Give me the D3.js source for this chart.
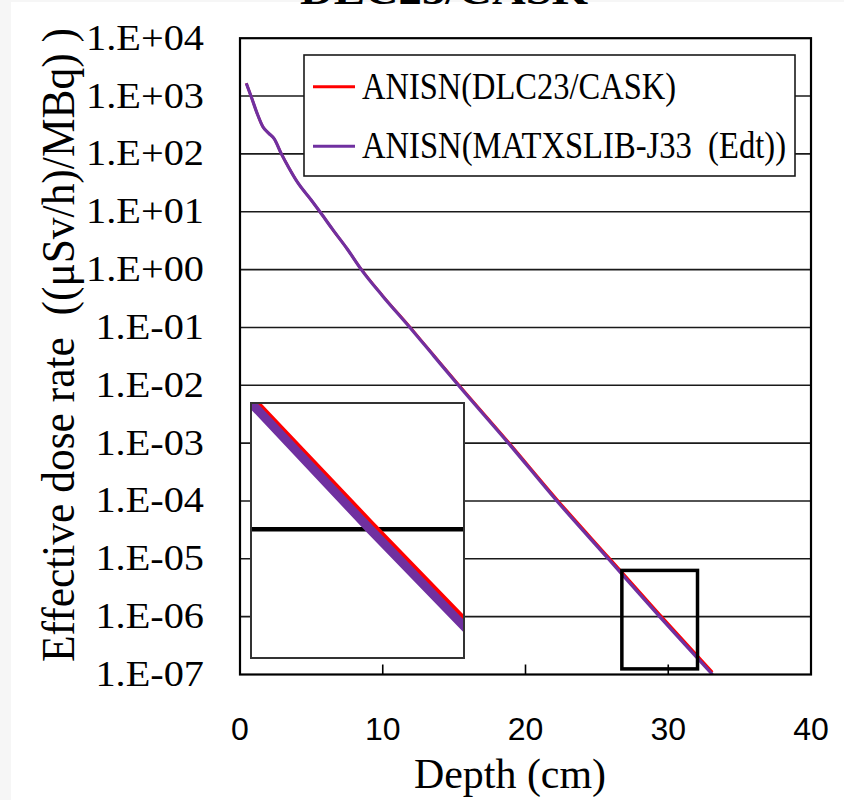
<!DOCTYPE html>
<html>
<head>
<meta charset="utf-8">
<script src="https://cdnjs.cloudflare.com/ajax/libs/d3/7.8.5/d3.min.js"></script>
<style>
  body { margin: 0; background: #f6f6f6; }
  text { white-space: pre; }
</style>
</head>
<body>
<script>

// depth (cm) and dose for the two calculations
var depth = [0.44, 0.8, 1.2, 1.6, 2.0, 2.4, 2.9, 3.4, 4.0, 5.0, 5.6, 6.5, 7.5, 8.5,
             10.0, 11.9, 13.6, 15.3, 18.8, 22.2, 25.8, 29.4, 33.1],
    doseMatxs = [1660, 955, 501, 295, 229, 182, 100, 58.9, 33.1, 15.8, 10, 4.9, 2.29, 1.0,
                 0.347, 0.1, 0.0316, 0.01, 1e-3, 1e-4, 1e-5, 1e-6, 1e-7],
    doseDlc = [1660, 955, 501, 295, 229, 182, 100, 58.9, 33.1, 15.8, 10, 4.9, 2.3, 1.01,
               0.352, 0.102, 0.0325, 0.0104, 1.05e-3, 1.07e-4, 1.08e-5, 1.1e-6, 1.1e-7],
    seriesNames = ["ANISN(DLC23/CASK)", "ANISN(MATXSLIB-J33  (Edt))"],
    seriesColors = ["#ff0000", "#7030a0"],
    xTicks = [0, 10, 20, 30, 40],
    yTicks = [1e4, 1e3, 1e2, 1e1, 1e0, 1e-1, 1e-2, 1e-3, 1e-4, 1e-5, 1e-6, 1e-7],
    yTickLabels = ["1.E+04", "1.E+03", "1.E+02", "1.E+01", "1.E+00", "1.E-01",
                   "1.E-02", "1.E-03", "1.E-04", "1.E-05", "1.E-06", "1.E-07"],
    // region marked on the chart and the range shown in the enlarged view
    markDepth = [26.75, 32.05],
    markDose = [6.3e-6, 1.25e-7],
    insetDepth = [26.43, 31.75],
    insetDose = [6.67e-6, 1.44e-7];

var W = 844, H = 800,
    margin = {top: 38.2, right: 33, bottom: 125.5, left: 240},
    width = W - margin.left - margin.right,
    height = H - margin.top - margin.bottom,
    serif = "'Liberation Serif', 'Times New Roman', serif",
    sans = "'Liberation Sans', Arial, sans-serif";

var svg = d3.select("body").append("svg")
    .attr("width", W)
    .attr("height", H)
    .style("display", "block");

svg.append("rect")
    .attr("x", 11).attr("y", 2)
    .attr("width", W - 11).attr("height", H - 2)
    .attr("fill", "#fff");

// title, mostly cut off at the top
svg.append("text")
    .attr("x", 444).attr("y", 4)
    .attr("text-anchor", "middle")
    .attr("font-family", serif)
    .attr("font-weight", "bold")
    .attr("font-size", 40)
    .attr("textLength", 288)
    .attr("lengthAdjust", "spacingAndGlyphs")
    .text("DLC23/CASK");

var x = d3.scaleLinear().domain([0, 40]).range([0, width]);
var y = d3.scaleLog().domain([1e4, 1e-7]).range([0, height]);

var g = svg.append("g")
    .attr("transform", "translate(" + margin.left + "," + margin.top + ")");

g.append("clipPath").attr("id", "plotClip")
  .append("rect").attr("width", width).attr("height", height);

// gridlines
g.selectAll(".grid")
    .data(yTicks.slice(1, -1))
    .enter().append("line")
    .attr("x1", 0).attr("x2", width)
    .attr("y1", function (d) { return y(d); })
    .attr("y2", function (d) { return y(d); })
    .attr("stroke", "#1a1a1a")
    .attr("stroke-width", 1.6);

// x ticks (inward)
g.selectAll(".xtick")
    .data(xTicks)
    .enter().append("line")
    .attr("x1", function (d) { return x(d); })
    .attr("x2", function (d) { return x(d); })
    .attr("y1", height).attr("y2", height - 10)
    .attr("stroke", "#000")
    .attr("stroke-width", 1.6);

// tick labels
g.selectAll(".xlab")
    .data(xTicks)
    .enter().append("text")
    .attr("x", function (d) { return x(d); })
    .attr("y", 740 - margin.top)
    .attr("text-anchor", "middle")
    .attr("font-family", sans)
    .attr("font-size", 32)
    .text(function (d) { return d; });

g.selectAll(".ylab")
    .data(yTicks)
    .enter().append("text")
    .attr("x", 204 - margin.left)
    .attr("y", function (d) { return y(d) + 11.5; })
    .attr("text-anchor", "end")
    .attr("font-family", serif)
    .attr("font-size", 36)
    .text(function (d, i) { return yTickLabels[i]; })
    .each(function () {
        var len = this.getComputedTextLength();
        d3.select(this)
            .attr("textLength", len * 1.12)
            .attr("lengthAdjust", "spacingAndGlyphs");
    });

// the two curves
var series = [doseDlc, doseMatxs];
var line = d3.line()
    .x(function (d) { return x(d[0]); })
    .y(function (d) { return y(d[1]); })
    .curve(d3.curveMonotoneX);

var lines = g.append("g").attr("clip-path", "url(#plotClip)");
series.forEach(function (s, i) {
    lines.append("path")
        .datum(depth.map(function (d, j) { return [d, s[j]]; }))
        .attr("fill", "none")
        .attr("stroke", seriesColors[i])
        .attr("stroke-width", i == 0 ? 2.6 : 3.2)
        .attr("d", line);
});

// small marked box
g.append("rect")
    .attr("x", x(markDepth[0]))
    .attr("y", y(markDose[0]))
    .attr("width", x(markDepth[1]) - x(markDepth[0]))
    .attr("height", y(markDose[1]) - y(markDose[0]))
    .attr("fill", "none")
    .attr("stroke", "#000")
    .attr("stroke-width", 3.5);

// enlarged view
var ix = d3.scaleLinear().domain(insetDepth).range([251, 464]);
var iy = d3.scaleLog().domain(insetDose).range([403, 658]);

svg.append("clipPath").attr("id", "insetClip")
  .append("rect")
    .attr("x", 251).attr("y", 403)
    .attr("width", 213).attr("height", 255);

svg.append("rect")
    .attr("x", 251).attr("y", 403)
    .attr("width", 213).attr("height", 255)
    .attr("fill", "#fff");

var ig = svg.append("g").attr("clip-path", "url(#insetClip)");

ig.selectAll(".igrid")
    .data(yTicks.filter(function (d) { return d < insetDose[0] && d > insetDose[1]; }))
    .enter().append("line")
    .attr("x1", 251).attr("x2", 464)
    .attr("y1", function (d) { return iy(d); })
    .attr("y2", function (d) { return iy(d); })
    .attr("stroke", "#000")
    .attr("stroke-width", 4.5);

var iline = d3.line()
    .x(function (d) { return ix(d[0]); })
    .y(function (d) { return iy(d[1]); });

series.forEach(function (s, i) {
    ig.append("path")
        .datum(depth.map(function (d, j) { return [d, s[j]]; }))
        .attr("fill", "none")
        .attr("stroke", seriesColors[i])
        .attr("stroke-width", i == 0 ? 7 : 9)
        .attr("d", iline);
});

svg.append("rect")
    .attr("x", 251).attr("y", 403)
    .attr("width", 213).attr("height", 255)
    .attr("fill", "none")
    .attr("stroke", "#333")
    .attr("stroke-width", 2);

// plot frame
g.append("rect")
    .attr("width", width).attr("height", height)
    .attr("fill", "none")
    .attr("stroke", "#000")
    .attr("stroke-width", 2.2);

// legend
var legend = svg.append("g");
legend.append("rect")
    .attr("x", 304).attr("y", 55)
    .attr("width", 491).attr("height", 121)
    .attr("fill", "#fff")
    .attr("stroke", "#1a1a1a")
    .attr("stroke-width", 1.6);

var legendWidths = [314, 424];
seriesNames.forEach(function (name, i) {
    var ly = 86.7 + i * 59.5;
    legend.append("line")
        .attr("x1", 313).attr("x2", 355)
        .attr("y1", ly).attr("y2", ly)
        .attr("stroke", seriesColors[i])
        .attr("stroke-width", 3);
    legend.append("text")
        .attr("x", 362).attr("y", ly + 12)
        .attr("font-family", serif)
        .attr("font-size", 38)
        .attr("textLength", legendWidths[i])
        .attr("lengthAdjust", "spacingAndGlyphs")
        .text(name);
});

// axis titles
svg.append("text")
    .attr("x", 510).attr("y", 788)
    .attr("text-anchor", "middle")
    .attr("font-family", serif)
    .attr("font-size", 42)
    .attr("textLength", 192)
    .attr("lengthAdjust", "spacingAndGlyphs")
    .text("Depth (cm)");

svg.append("text")
    .attr("transform", "translate(74,345) rotate(-90)")
    .attr("text-anchor", "middle")
    .attr("font-family", serif)
    .attr("font-size", 46)
    .attr("textLength", 634)
    .attr("lengthAdjust", "spacingAndGlyphs")
    .text("Effective dose rate  ((\u03bcSv/h)/MBq) )");

</script>
</body>
</html>
